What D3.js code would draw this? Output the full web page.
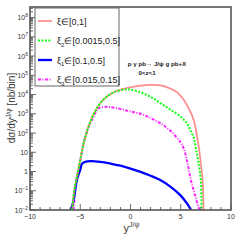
<!DOCTYPE html>
<html>
<head>
<meta charset="utf-8">
<script src="https://cdn.jsdelivr.net/npm/d3@7"></script>
<style>
  body { margin: 0; background: #fff; }
  svg { display: block; font-family: "Liberation Sans", Arial, sans-serif; }
</style>
</head>
<body>
<svg id="chart"></svg>
<script>
// rapidity values (x) and cross sections (nb/bin)
var yTotal = [-5.8, -5.67, -5.5, -5.33, -5.0, -4.67, -4.17, -3.5, -2.67, -1.67, -0.67, 0, 1, 2, 3, 4, 4.67, 5.33, 6, 6.33, 6.67, 6.83, 7.0, 7.17, 7.27];
var sTotal = [0.01, 0.05, 0.2, 0.5, 4, 28, 220, 1400, 5600, 13000, 20000, 24000, 29000, 32000, 30000, 20000, 12600, 5000, 1150, 400, 47, 14, 2.5, 0.38, 0.01];

var yXi2 = [-5.8, -5.67, -5.5, -5.33, -5.0, -4.67, -4.17, -3.5, -2.67, -1.67, -0.67, -0.3, 0, 1, 2, 3, 4, 5, 5.6, 6.0, 6.33, 6.5, 6.75, 7.0, 7.07];
var sXi2 = [0.01, 0.05, 0.2, 0.5, 4, 28, 220, 1400, 5600, 13000, 18000, 18600, 18000, 13000, 7600, 3500, 1600, 700, 316, 126, 50, 16, 3.2, 0.32, 0.01];

var yXi1 = [-5.93, -5.67, -5.5, -5.33, -5.0, -4.83, -4.5, -4, -3, -2, -1, 0, 1, 2, 3, 4, 5, 5.67, 6.03];
var sXi1 = [0.01, 0.03, 0.11, 0.38, 1.26, 2.5, 3.2, 3.5, 3.2, 2.6, 2.0, 1.41, 0.95, 0.6, 0.35, 0.16, 0.056, 0.02, 0.01];

var yXi3 = [-5.65, -5.4, -5.0, -4.67, -4.17, -3.5, -3.17, -2.5, -2, -1, 0, 1, 2, 3, 4, 5, 5.33, 5.67, 6.0, 6.4, 6.85];
var sXi3 = [0.01, 0.3, 3.5, 28, 200, 1100, 1950, 2300, 2240, 1780, 1320, 1000, 600, 316, 126, 32, 14, 2.8, 0.38, 0.063, 0.01];

var xTicks = [-10, -5, 0, 5, 10];
var yTickExp = [-2, -1, 0, 1, 2, 3, 4, 5, 6, 7, 8];

var legendLabels = [
  {main: "ξ", sub: "", rest: "∈[0,1]"},
  {main: "ξ", sub: "2", rest: "∈[0.0015,0.5]"},
  {main: "ξ", sub: "1", rest: "∈[0.1,0.5]"},
  {main: "ξ", sub: "3", rest: "∈[0.015,0.15]"}
];

var W = 240, H = 240;
var margin = {top: 7, right: 9, bottom: 30, left: 30};
var width = W - margin.left - margin.right,
    height = H - margin.top - margin.bottom;

var svg = d3.select("#chart").attr("width", W).attr("height", H);

var x = d3.scaleLinear().domain([-10, 10]).range([0, width]);
var y = d3.scaleLog().domain([0.01, Math.pow(10, 8.55)]).range([height, 0]);

var g = svg.append("g")
    .attr("transform", "translate(" + margin.left + "," + margin.top + ")");

g.append("clipPath").attr("id", "clip")
  .append("rect").attr("width", width).attr("height", height);

var series = [
  {xs: yTotal, ys: sTotal, color: "#f77", w: 1.7, dash: null, op: 0.85},
  {xs: yXi2, ys: sXi2, color: "#1f1", w: 2, dash: "2,1.5", op: 1},
  {xs: yXi1, ys: sXi1, color: "#00f", w: 2.3, dash: null, op: 1},
  {xs: yXi3, ys: sXi3, color: "#f2f", w: 2, dash: "3,1.5,1,1.5", op: 1}
];

var line = d3.line()
    .x(function(d) { return x(d[0]); })
    .y(function(d) { return y(d[1]); })
    .curve(d3.curveCatmullRom.alpha(0.5));

// draw order: magenta, blue, red, green on top
[3, 2, 0, 1].forEach(function(i) {
  var s = series[i];
  g.append("path")
      .datum(d3.zip(s.xs, s.ys))
      .attr("clip-path", "url(#clip)")
      .attr("fill", "none")
      .attr("stroke", s.color)
      .attr("stroke-width", s.w)
      .attr("stroke-opacity", s.op)
      .attr("stroke-dasharray", s.dash)
      .attr("d", line);
});

// x axis ticks (inward)
var xMinor = d3.range(-10, 10.5, 1);
g.selectAll(".xminor").data(xMinor).enter().append("line")
    .attr("x1", function(d) { return x(d); }).attr("x2", function(d) { return x(d); })
    .attr("y1", height).attr("y2", function(d) { return d % 5 === 0 ? height - 6 : height - 3; })
    .attr("stroke", "#444").attr("stroke-width", 0.8);

g.selectAll(".xlab").data(xTicks).enter().append("text")
    .attr("x", function(d) { return x(d); })
    .attr("y", height + 9)
    .attr("text-anchor", "middle")
    .attr("font-size", 7)
    .attr("fill", "#333")
    .text(function(d) { return d < 0 ? "\u2212" + Math.abs(d) : d; });

// y axis ticks (log, inward)
var yMinor = [];
yTickExp.forEach(function(e) {
  for (var k = 1; k < 10; k++) {
    var v = k * Math.pow(10, e);
    if (v <= y.domain()[1]) yMinor.push({v: v, major: k === 1});
  }
});
g.selectAll(".yminor").data(yMinor).enter().append("line")
    .attr("x1", 0).attr("x2", function(d) { return d.major ? 6 : 3; })
    .attr("y1", function(d) { return y(d.v); }).attr("y2", function(d) { return y(d.v); })
    .attr("stroke", "#444").attr("stroke-width", 0.8);

var ylab = g.selectAll(".ylab").data(yTickExp).enter().append("text")
    .attr("x", -2)
    .attr("y", function(d) { return y(Math.pow(10, d)) + 2.5; })
    .attr("text-anchor", "end")
    .attr("font-size", 7)
    .attr("fill", "#333");
ylab.each(function(d) {
  var t = d3.select(this);
  if (d === 0) { t.text("1"); return; }
  if (d === 1) { t.text("10"); return; }
  t.append("tspan").text("10");
  t.append("tspan").attr("dy", -3).attr("font-size", 5)
    .text(d < 0 ? "\u2212" + Math.abs(d) : d);
});

// frame
g.append("rect")
    .attr("width", width).attr("height", height)
    .attr("fill", "none").attr("stroke", "#555").attr("stroke-width", 1.6);

// axis titles
var xt = svg.append("text")
    .attr("x", margin.left + x(0) - 7)
    .attr("y", 232)
    .attr("font-size", 11)
    .attr("fill", "#333");
xt.append("tspan").text("y");
xt.append("tspan").attr("dy", -5).attr("font-size", 7).text("J/ψ");

var yt = svg.append("text")
    .attr("transform", "translate(15,108) rotate(-90)")
    .attr("text-anchor", "middle")
    .attr("font-size", 10)
    .attr("fill", "#333");
yt.append("tspan").text("dσ/dy");
yt.append("tspan").attr("dy", -4).attr("font-size", 6.5).text("J/ψ");
yt.append("tspan").attr("dy", 4).text(" [nb/bin]");

// legend
var lg = g.append("g").attr("transform", "translate(" + (35 - margin.left) + "," + (8 - margin.top) + ")");
lg.append("rect").attr("width", 84).attr("height", 78)
    .attr("fill", "#fff").attr("stroke", "#666").attr("stroke-width", 1);
legendLabels.forEach(function(l, i) {
  var s = series[i];
  var ry = 13 + i * 19.5;
  lg.append("line")
      .attr("x1", 3).attr("x2", 17).attr("y1", ry).attr("y2", ry)
      .attr("stroke", s.color).attr("stroke-width", s.w)
      .attr("stroke-opacity", s.op)
      .attr("stroke-dasharray", s.dash);
  var t = lg.append("text").attr("x", 22).attr("y", ry + 3.5)
      .attr("font-size", 9).attr("fill", "#222");
  t.append("tspan").text(l.main);
  if (l.sub) {
    t.append("tspan").attr("dy", 2.5).attr("font-size", 6).text(l.sub);
    t.append("tspan").attr("dy", -2.5).text(l.rest);
  } else {
    t.append("tspan").text(l.rest);
  }
});

// process annotation
svg.append("text")
    .attr("x", 157).attr("y", 66)
    .attr("text-anchor", "middle")
    .attr("font-size", 6.2).attr("font-weight", "bold").attr("fill", "#222")
    .text("p γ pb→ J/ψ g pb+X");
svg.append("text")
    .attr("x", 147).attr("y", 75)
    .attr("text-anchor", "middle")
    .attr("font-size", 6.2).attr("font-weight", "bold").attr("fill", "#222")
    .text("0<z<1");
</script>
</body>
</html>
